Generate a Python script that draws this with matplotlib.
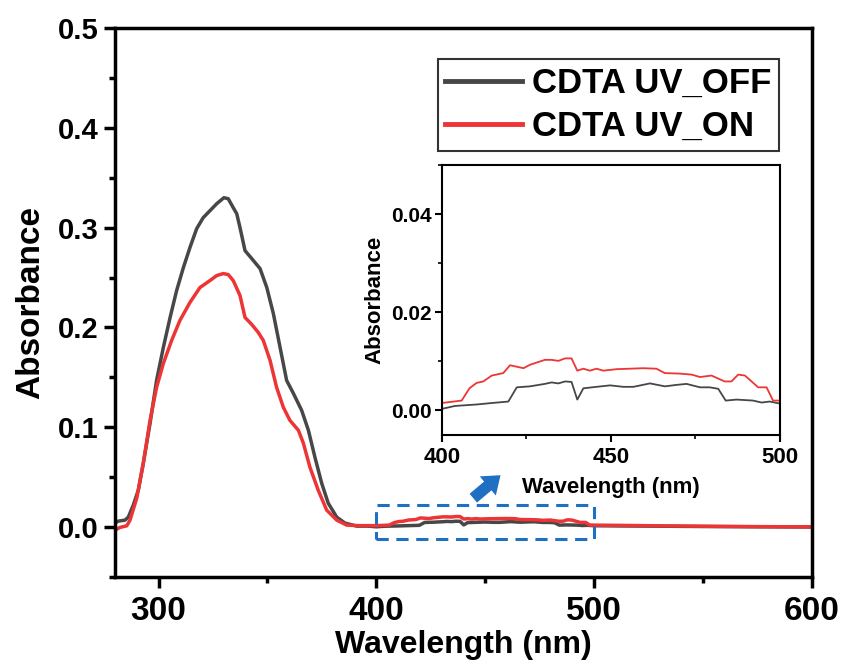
import matplotlib
matplotlib.use("Agg")
import matplotlib.pyplot as plt
from matplotlib.patches import Rectangle
from matplotlib.ticker import MultipleLocator

plt.rcParams['font.family'] = ['Liberation Sans', 'DejaVu Sans']
plt.rcParams['font.weight'] = 'bold'

# UV-vis spectra
# peak region (280-400 nm)
wl_peak_off = [280, 281.5, 284.6, 286.1, 288.4, 290.7, 293, 296.1, 299.1, 302.2, 305.3, 308.3, 311.4,
               314.4, 317.5, 320.5, 323.6, 326.7, 330, 332, 334.3, 335.9, 337.4, 339.7, 342.8, 346.6,
               349.7, 352.7, 355.8, 358.8, 361.9, 365.7, 368.8, 371.8, 374.9, 377.9, 381.8, 385.6,
               391, 396]
abs_peak_off = [0.004, 0.006, 0.007, 0.010, 0.022, 0.037, 0.064, 0.104, 0.147, 0.180, 0.210, 0.237,
                0.260, 0.280, 0.299, 0.310, 0.317, 0.324, 0.330, 0.329, 0.320, 0.314, 0.300, 0.277,
                0.269, 0.259, 0.240, 0.214, 0.180, 0.147, 0.134, 0.117, 0.097, 0.070, 0.044, 0.024,
                0.010, 0.004, 0.001, 0.001]

wl_peak_on = [280, 282.3, 285.4, 286.9, 290, 293, 296.1, 299.1, 302.2, 306, 309.8, 314.4, 319, 323.6,
              326.7, 329.7, 332, 334.3, 337.4, 339.7, 342.8, 345.8, 348.1, 351.2, 354.2, 357.3, 360.3,
              364.2, 366.5, 369.5, 373.3, 377.2, 381.8, 386.4, 392, 396]
abs_peak_on = [-0.003, -0.0003, 0.0013, 0.007, 0.029, 0.064, 0.107, 0.140, 0.164, 0.187, 0.207, 0.225,
               0.240, 0.247, 0.252, 0.254, 0.253, 0.247, 0.232, 0.210, 0.203, 0.195, 0.187, 0.167,
               0.140, 0.120, 0.107, 0.097, 0.084, 0.060, 0.037, 0.017, 0.007, 0.002, 0.0015, 0.0015]

# 400-500 nm region (shown in the inset)
wl_mid_off = [400, 403.9, 410.3, 414.8, 419.7, 422.2, 426.1, 430.5, 432.5, 434.5, 436.5, 438.4, 440.1,
              441.9, 445.8, 449.8, 453.7, 456.7, 461.6, 466, 469.5, 472.4, 476.4, 479.3, 481.8, 484,
              487.2, 492.1, 494.6, 497, 500]
abs_mid_off = [0.0003, 0.0009, 0.0012, 0.0015, 0.0018, 0.0047, 0.0049, 0.0054, 0.0057, 0.0055, 0.0059,
               0.0058, 0.0022, 0.0045, 0.0048, 0.0051, 0.0048, 0.0048, 0.0055, 0.0049, 0.0052, 0.0054,
               0.0047, 0.0047, 0.0044, 0.0020, 0.0022, 0.0020, 0.0016, 0.0018, 0.0014]

wl_mid_on = [400, 405.9, 408.2, 410.3, 412.3, 414.8, 418.2, 420.2, 422.2, 424.2, 426.1, 430.5, 432.5,
             434.5, 436.5, 438.4, 440.1, 441.9, 443.8, 445.8, 447.8, 451.7, 455.7, 459.6, 463.5, 466,
             470.4, 473.9, 476.4, 479.8, 483.7, 485.7, 487.7, 489.7, 493.6, 496.1, 498, 500]
abs_mid_on = [0.0015, 0.0020, 0.0045, 0.0056, 0.0059, 0.0071, 0.0076, 0.0092, 0.0089, 0.0086, 0.0093,
              0.0103, 0.0103, 0.0101, 0.0106, 0.0106, 0.0081, 0.0085, 0.0081, 0.0085, 0.0081, 0.0084,
              0.0085, 0.0086, 0.0085, 0.0076, 0.0075, 0.0073, 0.0068, 0.0071, 0.0059, 0.0059, 0.0073,
              0.0071, 0.0047, 0.0047, 0.0020, 0.0020]

# tail (500-600 nm)
wl_tail = [510, 525, 550, 575, 600]
abs_tail_off = [0.0012, 0.0010, 0.0006, 0.0003, 0.0001]
abs_tail_on = [0.0018, 0.0014, 0.0009, 0.0005, 0.0002]

labels = ["CDTA UV_OFF", "CDTA UV_ON"]
c_off = "#474747"
c_on = "#ee3535"
blue = "#1f6fc2"

wl_off = wl_peak_off + wl_mid_off + wl_tail
a_off = abs_peak_off + abs_mid_off + abs_tail_off
wl_on = wl_peak_on + wl_mid_on + wl_tail
a_on = abs_peak_on + abs_mid_on + abs_tail_on

fig = plt.figure(figsize=(8.43, 6.66), dpi=100)
ax = fig.add_axes([0.1364, 0.1336, 0.8268, 0.8243])

ax.plot(wl_off, a_off, color=c_off, lw=2.5, label=labels[0])
ax.plot(wl_on, a_on, color=c_on, lw=2.5, label=labels[1])

ax.set_xlim(280, 600)
ax.set_ylim(-0.05, 0.5)
ax.xaxis.set_major_locator(MultipleLocator(100))
ax.xaxis.set_minor_locator(MultipleLocator(50))
ax.yaxis.set_major_locator(MultipleLocator(0.1))
ax.yaxis.set_minor_locator(MultipleLocator(0.05))
ax.tick_params(which='major', direction='out', length=8, width=2.5)
ax.tick_params(which='minor', direction='out', length=4.5, width=2.5)
ax.tick_params(axis='x', which='major', labelsize=24, pad=6)
ax.tick_params(axis='y', which='major', labelsize=21, pad=4)
for sp in ax.spines.values():
    sp.set_linewidth(2.5)
ax.set_xlabel("Wavelength (nm)", fontsize=23, fontweight='bold', labelpad=2)
ax.set_ylabel("Absorbance", fontsize=24, fontweight='bold', labelpad=8)

leg = ax.legend(loc='upper right', bbox_to_anchor=(0.9527, 0.9435), fontsize=25,
                frameon=True, fancybox=False, edgecolor='black', handlelength=2.2,
                handletextpad=0.3, borderpad=0.22, labelspacing=0.3, borderaxespad=0)
leg.get_frame().set_linewidth(1.5)
for h in leg.get_lines():
    h.set_linewidth(3.5)

# dashed box marking the zoomed region
ax.add_patch(Rectangle((400, -0.012), 100, 0.034, fill=False, edgecolor=blue,
                       lw=2.2, linestyle=(0, (4, 2.5)), zorder=5))
ax.annotate("", xy=(457, 0.052), xytext=(444.5, 0.029),
            arrowprops=dict(arrowstyle="simple,head_length=0.8,head_width=1.2,tail_width=0.55",
                            color=blue, lw=0, mutation_scale=15, shrinkA=0, shrinkB=0))

# inset
ins = fig.add_axes([0.524, 0.347, 0.401, 0.405])
ins.plot(wl_mid_off, abs_mid_off, color=c_off, lw=1.3)
ins.plot(wl_mid_on, abs_mid_on, color=c_on, lw=1.3)
ins.set_xlim(400, 500)
ins.set_ylim(-0.005, 0.05)
ins.xaxis.set_major_locator(MultipleLocator(50))
ins.xaxis.set_minor_locator(MultipleLocator(25))
ins.yaxis.set_major_locator(MultipleLocator(0.02))
ins.yaxis.set_minor_locator(MultipleLocator(0.01))
ins.tick_params(which='major', direction='out', length=5, width=1.5)
ins.tick_params(which='minor', direction='out', length=3, width=1.2)
ins.tick_params(axis='x', which='major', labelsize=16, pad=4)
ins.tick_params(axis='y', which='major', labelsize=15, pad=2)
for sp in ins.spines.values():
    sp.set_linewidth(1.5)
ins.set_xlabel("Wavelength (nm)", fontsize=16, fontweight='bold', labelpad=6)
ins.set_ylabel("Absorbance", fontsize=16, fontweight='bold', labelpad=4)

fig.savefig("out.png", dpi=100)
